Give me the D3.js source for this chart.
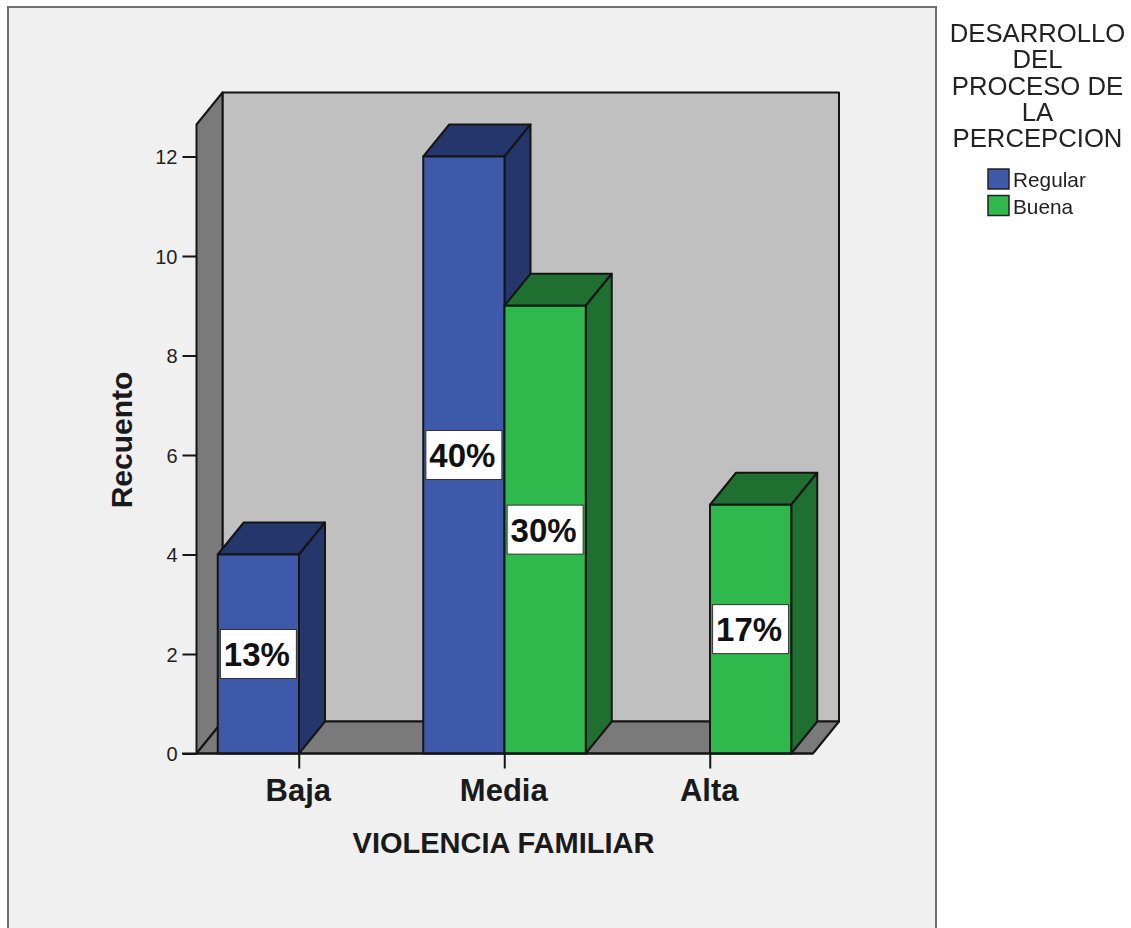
<!DOCTYPE html>
<html><head><meta charset="utf-8">
<script src="https://cdn.jsdelivr.net/npm/d3@7/dist/d3.min.js"></script>
<style>html,body{margin:0;padding:0;background:#fff;overflow:hidden}svg{display:block;font-family:"Liberation Sans",Arial,sans-serif;filter:blur(0.45px)}</style>
</head><body><svg id="c" width="1131" height="928"></svg>
<script>
const categories = ["Baja","Media","Alta"];
const seriesNames = ["Regular","Buena"];
const regularValues = [4,12,0];
const buenaValues = [0,9,5];
const regularLabels = ["13%","40%",""];
const buenaLabels = ["","30%","17%"];
const yTicks = [0,2,4,6,8,10,12];
const legendTitle = ["DESARROLLO","DEL","PROCESO DE","LA","PERCEPCION"];
const xTitle = "VIOLENCIA FAMILIAR", yTitle = "Recuento";

const styles = {Regular:{front:"#3e59a9",dark:"#24366b"},Buena:{front:"#2fb84b",dark:"#1f6f30"}};
const ink = "#151515", dx = 26, dy = -32;
const svg = d3.select("#c");
svg.append("rect").attr("x",8).attr("y",7).attr("width",928).attr("height",940)
  .attr("fill","#f0f0f0").attr("stroke","#6f6f6f").attr("stroke-width",2);

const x = d3.scaleBand().domain(categories).range([196.5,813]);
const grp = d3.scaleBand().domain(seriesNames).range([-81.5,81]);
const y = d3.scaleLinear().domain([0,12]).range([753.5,156.5]);
const yTop = 124.5; // front edge of the wall top
const poly = (pts,fill)=>svg.append("polygon").attr("points",pts.map(p=>p.join(",")).join(" "))
  .attr("fill",fill).attr("stroke",ink).attr("stroke-width",2).attr("stroke-linejoin","round");

const [L,R] = x.range(), B = y(0);
poly([[L+dx,yTop+dy],[R+dx,yTop+dy],[R+dx,B+dy],[L+dx,B+dy]],"#c0c0c0");
poly([[L,yTop],[L+dx,yTop+dy],[L+dx,B+dy],[L,B]],"#7a7a7a");
poly([[L,B],[L+dx,B+dy],[R+dx,B+dy],[R,B]],"#7a7a7a");

// Axes
const yAxis = d3.axisLeft(y).tickValues(yTicks).tickSize(14).tickPadding(5).tickFormat(d3.format("d"));
const ga = svg.append("g").attr("transform",`translate(${L},0)`).call(yAxis);
ga.select(".domain").remove();
ga.selectAll("line").attr("stroke",ink).attr("stroke-width",2);
ga.selectAll("text").attr("font-size",20).attr("fill","#222").attr("dy","0.36em");

const rows = [];
categories.forEach((c,i)=>{
  [[seriesNames[0],regularValues[i],regularLabels[i]],[seriesNames[1],buenaValues[i],buenaLabels[i]]]
    .forEach(([s,v,l])=>{ if(v>0) rows.push({c,s,v,l}); });
});
const bw = grp.bandwidth();
rows.forEach(r=>{
  const x0 = x(r.c)+x.bandwidth()/2+grp(r.s), x1 = x0+bw, t = y(r.v), st = styles[r.s];
  poly([[x0,t],[x0+dx,t+dy],[x1+dx,t+dy],[x1,t]],st.dark);
  poly([[x1,t],[x1+dx,t+dy],[x1+dx,B+dy],[x1,B]],st.dark);
  poly([[x0,t],[x1,t],[x1,B],[x0,B]],st.front);
});

// x axis over the bars
const xAxis = d3.axisBottom(x).tickSize(15).tickPadding(9);
const gx = svg.append("g").attr("transform",`translate(0,${B})`).call(xAxis);
gx.select(".domain").remove();
gx.selectAll("line").attr("stroke",ink).attr("stroke-width",2);
gx.selectAll("text").attr("font-size",31).attr("font-weight","bold").attr("fill","#1a1a1a");
gx.selectAll("text").attr("dy","0.77em").attr("dx",-1);
svg.append("line").attr("x1",182).attr("x2",R).attr("y1",B).attr("y2",B).attr("stroke",ink).attr("stroke-width",2);

// Labels drawn last
rows.forEach(r=>{
  const cx = x(r.c)+x.bandwidth()/2+grp(r.s)+bw/2, cy = y(r.v/2);
  svg.append("rect").attr("x",cx-38).attr("y",cy-24.5).attr("width",76).attr("height",49)
    .attr("fill","#fff").attr("stroke","#333").attr("stroke-width",1);
  svg.append("text").attr("x",cx-1.5).attr("y",cy+12).attr("text-anchor","middle")
    .attr("font-size",33).attr("font-weight","bold").attr("fill","#111").text(r.l);
});

svg.append("text").attr("x",503.5).attr("y",853).attr("text-anchor","middle")
  .attr("font-size",29).attr("font-weight","bold").attr("fill","#1a1a1a").text(xTitle);
svg.append("text").attr("transform","translate(132,440) rotate(-90)").attr("text-anchor","middle")
  .attr("font-size",30).attr("font-weight","bold").attr("fill","#1a1a1a").text(yTitle);

legendTitle.forEach((t,i)=>svg.append("text").attr("x",1037.5).attr("y",42+i*26.3)
  .attr("text-anchor","middle").attr("font-size",25.7).attr("fill","#222").text(t));
seriesNames.forEach((s,i)=>{
  const ly = 169+i*26.5;
  svg.append("rect").attr("x",988).attr("y",ly).attr("width",21).attr("height",20)
    .attr("fill",styles[s].front).attr("stroke","#222").attr("stroke-width",1.5);
  svg.append("text").attr("x",1013).attr("y",ly+18).attr("font-size",20.8).attr("fill","#222").text(s);
});
</script></body></html>
